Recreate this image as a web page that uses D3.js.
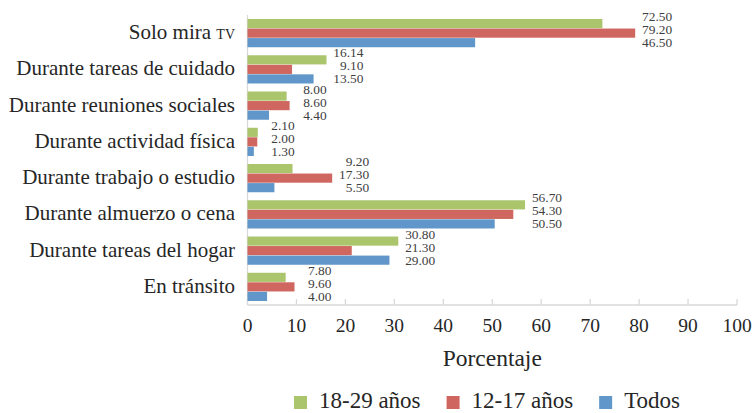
<!DOCTYPE html>
<html>
<head>
<meta charset="utf-8">
<script src="https://cdn.jsdelivr.net/npm/d3@7"></script>
<style>
    html, body { margin: 0; padding: 0; background: #fff; }
    svg { display: block; font-family: "Liberation Serif", "Times New Roman", serif; }
</style>
</head>
<body>
<div id="chart"></div>
<script>
// ============================================================================
// DATA
// ============================================================================

const categories = [
    "Solo mira TV",
    "Durante tareas de cuidado",
    "Durante reuniones sociales",
    "Durante actividad física",
    "Durante trabajo o estudio",
    "Durante almuerzo o cena",
    "Durante tareas del hogar",
    "En tránsito"
];

const seriesNames  = ["18-29 años", "12-17 años", "Todos"];
const seriesColors = ["#abc56d", "#cf665f", "#6096c9"];

const values1829  = [72.50, 16.14, 8.00, 2.10, 9.20, 56.70, 30.80, 7.80];
const values1217  = [79.20, 9.10, 8.60, 2.00, 17.30, 54.30, 21.30, 9.60];
const valuesTodos = [46.50, 13.50, 4.40, 1.30, 5.50, 50.50, 29.00, 4.00];

const xTicks = [0, 10, 20, 30, 40, 50, 60, 70, 80, 90, 100];

const seriesValues = [values1829, values1217, valuesTodos];

const rows = categories.map((c, i) => ({
    category: c,
    values: seriesValues.map((vals, s) => ({ series: s, value: vals[i] }))
}));


// ============================================================================
// SETUP
// ============================================================================

const W = 754, H = 413;
const margin = { top: 15, right: 17, bottom: 108, left: 247.5 };
const width  = W - margin.left - margin.right;
const height = H - margin.top  - margin.bottom;

const svg = d3.select("#chart")
    .append("svg")
    .attr("width", W)
    .attr("height", H);

const g = svg.append("g")
    .attr("transform", `translate(${margin.left},${margin.top})`);

const x = d3.scaleLinear()
    .domain([0, 100])
    .range([0, width]);

const y = d3.scaleBand()
    .domain(categories)
    .range([0, height])
    .paddingInner(0.2)
    .paddingOuter(0.1);

const ySub = d3.scaleBand()
    .domain(d3.range(seriesNames.length))
    .range([0, y.bandwidth()])
    .padding(0.04);

const axisColor = "#d9d9d9";


// ============================================================================
// AXES
// ============================================================================

g.append("line")
    .attr("x1", 0).attr("x2", 0)
    .attr("y1", 0).attr("y2", height)
    .attr("stroke", axisColor)
    .attr("stroke-width", 1.3);

g.append("line")
    .attr("x1", 0).attr("x2", width)
    .attr("y1", height).attr("y2", height)
    .attr("stroke", axisColor)
    .attr("stroke-width", 1.3);

g.selectAll("line.tick")
    .data(xTicks)
    .join("line")
    .attr("class", "tick")
    .attr("x1", d => x(d)).attr("x2", d => x(d))
    .attr("y1", height - 6).attr("y2", height)
    .attr("stroke", axisColor)
    .attr("stroke-width", 1.3);

g.selectAll("text.tick-label")
    .data(xTicks)
    .join("text")
    .attr("class", "tick-label")
    .attr("x", d => x(d))
    .attr("y", height + 27)
    .attr("text-anchor", "middle")
    .style("font-size", "19.5px")
    .attr("fill", "#262626")
    .text(d => d);

svg.append("text")
    .attr("x", margin.left + width / 2)
    .attr("y", 366)
    .attr("text-anchor", "middle")
    .style("font-size", "23.5px")
    .attr("fill", "#262626")
    .text("Porcentaje");

// Category labels (the "TV" is set in small caps)
const catLabels = svg.selectAll("text.cat")
    .data(categories)
    .join("text")
    .attr("class", "cat")
    .attr("x", 235)
    .attr("y", d => margin.top + y(d) + y.bandwidth() / 2 + 6)
    .attr("text-anchor", "end")
    .style("font-size", "21px")
    .attr("fill", "#262626");

catLabels.each(function (d) {
    const t = d3.select(this);
    if (d.endsWith(" TV")) {
        t.append("tspan").text(d.slice(0, -2));
        t.append("tspan").style("font-size", "14px").text("TV");
    } else {
        t.text(d);
    }
});


// ============================================================================
// BARS
// ============================================================================

const groups = g.selectAll("g.group")
    .data(rows)
    .join("g")
    .attr("class", "group")
    .attr("transform", d => `translate(0,${y(d.category)})`);

groups.selectAll("rect.bar")
    .data(d => d.values)
    .join("rect")
    .attr("class", "bar")
    .attr("x", 0)
    .attr("y", d => ySub(d.series))
    .attr("width", d => x(d.value))
    .attr("height", ySub.bandwidth())
    .attr("fill", d => seriesColors[d.series]);

// Value labels, stacked to the right of the longest bar in each group
groups.each(function (row) {
    const maxVal = d3.max(row.values, v => v.value);
    d3.select(this).selectAll("text.value")
        .data(row.values)
        .join("text")
        .attr("class", "value")
        .attr("x", x(maxVal) + 37)
        .attr("y", d => d.series * 13 + 2.6)
        .attr("text-anchor", "end")
        .style("font-size", "13.4px")
        .attr("fill", "#404040")
        .text(d => d.value.toFixed(2));
});


// ============================================================================
// LEGEND
// ============================================================================

const legend = svg.append("g")
    .attr("transform", "translate(294,408)");

let lx = 0;
seriesNames.forEach((name, i) => {
    legend.append("rect")
        .attr("x", lx)
        .attr("y", -12)
        .attr("width", 13)
        .attr("height", 13)
        .attr("fill", seriesColors[i]);

    const t = legend.append("text")
        .attr("x", lx + 25)
        .attr("y", 0)
        .style("font-size", "23px")
        .attr("fill", "#262626")
        .text(name);

    lx += 25 + t.node().getComputedTextLength() + 26;
});
</script>
</body>
</html>
